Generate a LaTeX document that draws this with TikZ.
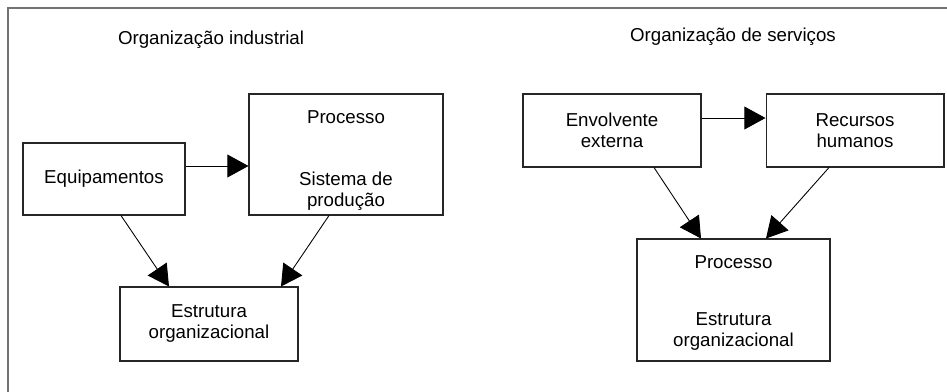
\documentclass[tikz,border=0pt]{standalone}
\usepackage{fontspec}
\setmainfont{Liberation Sans}
\usetikzlibrary{arrows.meta,positioning}

\begin{document}
\begin{tikzpicture}[x=0.02cm, y=-0.02cm,
            every node/.style={font=\fontsize{10.64pt}{11.95pt}\selectfont},
            box/.style={rectangle, draw=black!85, line width=0.6pt, align=center, inner sep=1pt},
            txt/.style={align=center, inner sep=0pt},
            arrow/.style={-{Triangle[length=12pt, width=13pt]}, line width=0.5pt, black},
            frame/.style={draw=black!55, line width=1.2pt}
        ]
        \useasboundingbox (0,0) rectangle (947,392);
        \draw[frame] (8,392) -- (8,8) -- (947,8);

        % Organizacao industrial
        \node[txt] (titA) at (211,40) {Organização industrial};
        \node[box, minimum width=3.24cm, minimum height=1.44cm] (equip) at (104,179) {Equipamentos};
        \node[box, minimum width=3.88cm, minimum height=2.42cm] (procA) at (346,154.5) {};
        \node[txt] (procAtxt) at (346,160.5) {Processo\\[23.2pt]Sistema de\\produção};
        \node[box, minimum width=3.56cm, minimum height=1.48cm] (estA) at (209,324) {Estrutura\\organizacional};

        \draw[arrow] (equip.east |- 0,166) -- (procA.west |- 0,166);
        \draw[arrow] (121,0 |- equip.south) -- (169,0 |- estA.north);
        \draw[arrow] (329,0 |- procA.south) -- (281,0 |- estA.north);

        % Organizacao de servicos
        \node[txt] (titB) at (733,37) {Organização de serviços};
        \node[box, minimum width=3.56cm, minimum height=1.46cm] (envolv) at (612,130.5) {Envolvente\\externa};
        \node[box, minimum width=3.56cm, minimum height=1.46cm, right=1.28cm of envolv] (recursos) {Recursos\\humanos};
        \node[box, minimum width=3.86cm, minimum height=2.44cm] (procB) at (733.5,300) {};
        \node[txt] (procBtxt) at (733.5,303.3) {Processo\\[20.6pt]Estrutura\\organizacional};

        \draw[arrow] (envolv.east |- 0,118) -- (recursos.west |- 0,118);
        \draw[arrow] (654,0 |- envolv.south) -- (701,0 |- procB.north);
        \draw[arrow] (829,0 |- recursos.south) -- (766,0 |- procB.north);
\end{tikzpicture}
\end{document}
